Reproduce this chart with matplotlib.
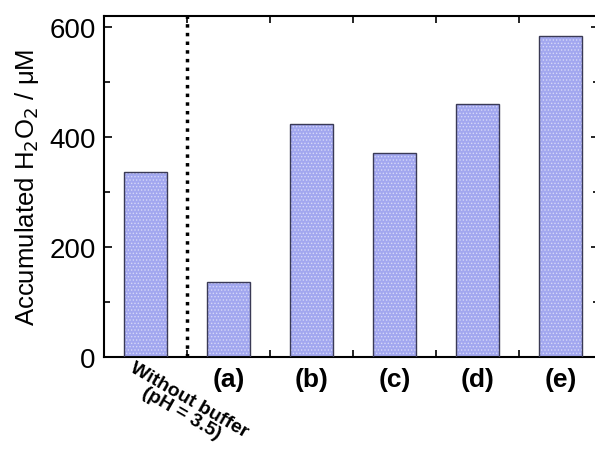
import numpy as np
import matplotlib.pyplot as plt
from matplotlib.ticker import MultipleLocator, FixedLocator

plt.rcParams['font.family'] = ['Liberation Sans', 'DejaVu Sans']
plt.rcParams['hatch.linewidth'] = 0.6

# data
labels = ['Without buffer\n(pH = 3.5)', '(a)', '(b)', '(c)', '(d)', '(e)']
h2o2 = [336, 136, 424, 371, 460, 584]

fig = plt.figure(figsize=(5.95, 4.52), dpi=100)
ax = fig.add_axes([104 / 595, 1 - 358 / 452, 495 / 595, 341 / 452])

x = np.arange(len(h2o2))
# dotted fill, then dark outline on top
ax.bar(x, h2o2, width=0.52, color='#a2a7ef', edgecolor='#d6d8f8',
       hatch='.....', linewidth=0, zorder=2)
ax.bar(x, h2o2, width=0.52, color='none', edgecolor='#3a3a55',
       linewidth=1.0, zorder=3)

ax.axvline(0.5, color='black', linestyle=(0, (1, 1.5)), linewidth=2.5, zorder=4)

ax.set_xlim(-0.5, -0.5 + 495 / 83)
ax.set_ylim(0, 620)

ax.yaxis.set_major_locator(MultipleLocator(200))
ax.yaxis.set_minor_locator(MultipleLocator(100))
ax.xaxis.set_major_locator(FixedLocator(x[1:]))
ax.xaxis.set_minor_locator(FixedLocator(np.arange(0.5, 5.5, 1.0)))
ax.set_xticklabels(labels[1:], fontsize=19, fontweight='bold')

ax.tick_params(axis='x', which='major', length=0, pad=7)
ax.tick_params(axis='x', which='minor', direction='in', length=5, width=1.2,
               top=True, bottom=True)
ax.tick_params(axis='y', which='both', direction='in', right=True, width=1.2,
               labelsize=20, pad=6)
ax.tick_params(axis='y', which='major', length=6)
ax.tick_params(axis='y', which='minor', length=4)

for s in ax.spines.values():
    s.set_linewidth(1.5)

ax.text(-0.12, -0.005, labels[0], transform=ax.get_xaxis_transform(),
        rotation=-30, rotation_mode='anchor', ha='left', va='top',
        fontsize=14, fontweight='bold',
        multialignment='center', linespacing=0.85)

ax.set_ylabel('Accumulated H$_2$O$_2$ / μM', fontsize=18.5, labelpad=6)

fig.savefig('out.png', dpi=100)
